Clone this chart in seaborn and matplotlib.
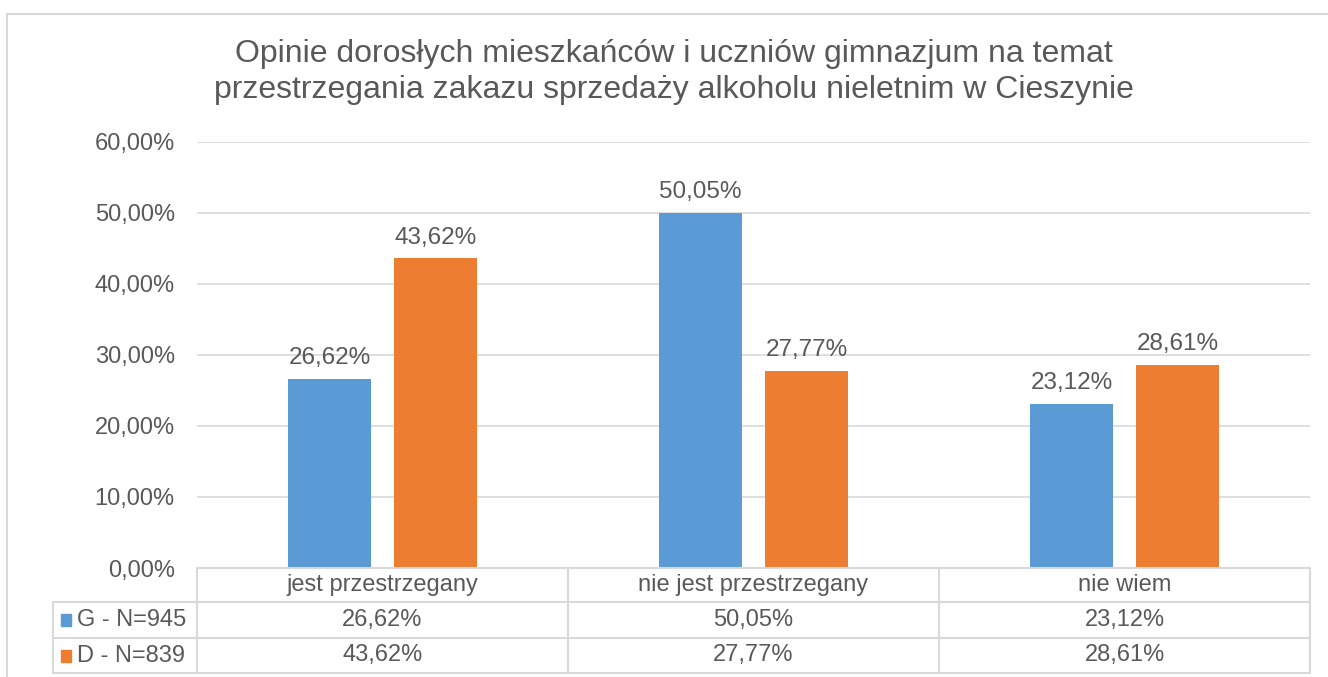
import matplotlib
matplotlib.use("Agg")
import matplotlib.pyplot as plt
from matplotlib.lines import Line2D
from matplotlib.patches import Rectangle
from matplotlib.ticker import FuncFormatter
import seaborn as sns
import pandas as pd

categories = ["jest przestrzegany", "nie jest przestrzegany", "nie wiem"]
series_names = ["G - N=945", "D - N=839"]
values_g = [26.62, 50.05, 23.12]
values_d = [43.62, 27.77, 28.61]
title = ("Opinie dorosłych mieszkańców i uczniów gimnazjum na temat\n"
         "przestrzegania zakazu sprzedaży alkoholu nieletnim w Cieszynie")
colors = ["#5B9BD5", "#ED7D31"]
text_color = "#595959"
line_color = "#D9D9D9"

W, H = 1328, 677
sns.set_theme(style="white")
plt.rcParams["font.family"] = ["Liberation Sans", "DejaVu Sans"]

df = pd.DataFrame({
    "kategoria": categories * 2,
    "wartosc": values_g + values_d,
    "seria": [series_names[0]] * 3 + [series_names[1]] * 3,
})

fig = plt.figure(figsize=(W / 100, H / 100), dpi=100)
fig.patch.set_facecolor("white")

def fx(x):
    return x / W

def fy(y):
    return 1 - y / H

ax_left, ax_right, ax_top, ax_bottom = 197, 1310, 142, 568
ax = fig.add_axes([fx(ax_left), fy(ax_bottom), (ax_right - ax_left) / W, (ax_bottom - ax_top) / H])

sns.barplot(data=df, x="kategoria", y="wartosc", hue="seria", palette=colors,
            width=0.571, gap=0.217, ax=ax, legend=False, saturation=1, linewidth=0)

ax.set_ylim(0, 60)
ax.set_yticks(range(0, 61, 10))
ax.yaxis.set_major_formatter(FuncFormatter(lambda v, p: f"{v:.2f}%".replace(".", ",")))
ax.set_xticks(range(len(categories)))
ax.set_xticklabels([""] * len(categories))
ax.set_xlabel("")
ax.set_ylabel("")
ax.tick_params(axis="both", length=0, labelsize=17, colors=text_color, pad=16)
ax.grid(axis="y", color=line_color, linewidth=1.2)
ax.set_axisbelow(True)
for s in ax.spines.values():
    s.set_visible(False)

for cont, vals in zip(ax.containers, [values_g, values_d]):
    ax.bar_label(cont, labels=[f"{v:.2f}%".replace(".", ",") for v in vals],
                 padding=7, fontsize=17.5, color=text_color)

# title
fig.text(fx(674), fy(72), title, ha="center", va="center", fontsize=23,
         color=text_color, linespacing=1.3)

# outer frame (clipped)
fig.add_artist(Line2D([fx(7), fx(1330)], [fy(14), fy(14)], color=line_color, lw=1.5))
fig.add_artist(Line2D([fx(7), fx(7)], [fy(14), fy(680)], color=line_color, lw=1.5))

# data table
col_x = [197, 568, 939, 1310]
row_y = [568, 602, 638, 673]
leg_left = 53
lw = 1.5
fig.add_artist(Line2D([fx(197), fx(1310)], [fy(568), fy(568)], color=line_color, lw=lw))
for y in row_y[1:]:
    fig.add_artist(Line2D([fx(leg_left), fx(1310)], [fy(y), fy(y)], color=line_color, lw=lw))
fig.add_artist(Line2D([fx(leg_left), fx(leg_left)], [fy(602), fy(673)], color=line_color, lw=lw))
for x in col_x:
    fig.add_artist(Line2D([fx(x), fx(x)], [fy(568), fy(673)], color=line_color, lw=lw))

for i, cat in enumerate(categories):
    cx = (col_x[i] + col_x[i + 1]) / 2
    fig.text(fx(cx), fy(585), cat, ha="center", va="center", fontsize=17, color=text_color)
    for r, vals in enumerate([values_g, values_d]):
        cy = (row_y[r + 1] + row_y[r + 2]) / 2
        fig.text(fx(cx), fy(cy), f"{vals[i]:.2f}%".replace(".", ","), ha="center",
                 va="center", fontsize=17, color=text_color)

for r, name in enumerate(series_names):
    cy = (row_y[r + 1] + row_y[r + 2]) / 2
    fig.add_artist(Rectangle((fx(61), fy(cy + 6)), 10 / W, 12 / H, color=colors[r],
                             transform=fig.transFigure))
    fig.text(fx(77), fy(cy), name, ha="left", va="center", fontsize=17, color=text_color)

fig.savefig("out.png", dpi=100)
